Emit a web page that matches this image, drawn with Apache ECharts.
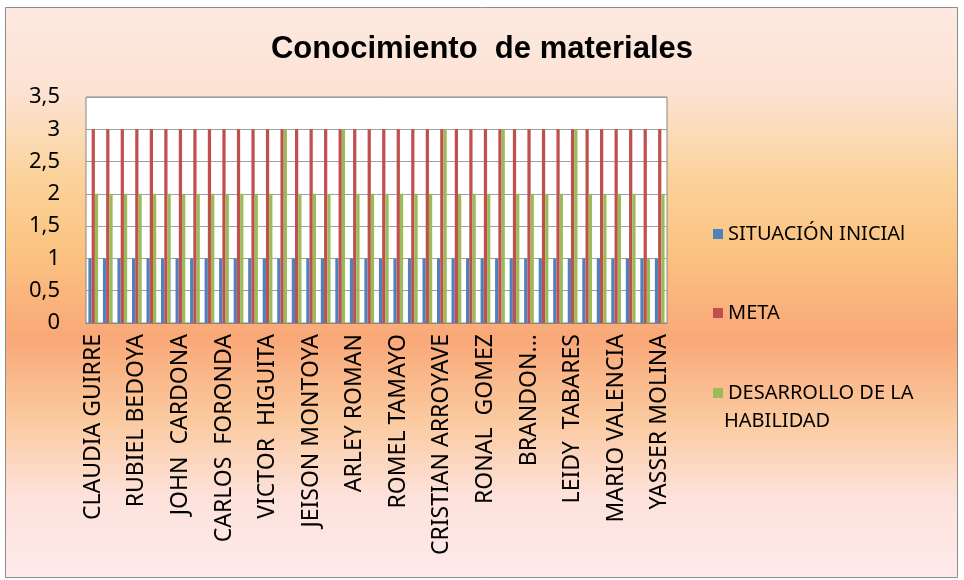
<!DOCTYPE html>
<html>
<head>
<meta charset="utf-8">
<script src="https://cdn.jsdelivr.net/npm/echarts@6/dist/echarts.min.js"></script>
<style>
  html, body { margin: 0; padding: 0; background: #fff; }
  #chart { width: 964px; height: 580px; }
</style>
</head>
<body>
<div id="chart"></div>
<script>
// only every third name is printed on the axis, the others are unknown
const categories = [
  'CLAUDIA GUIRRE', '', '', 'RUBIEL BEDOYA', '', '', 'JOHN  CARDONA', '', '',
  'CARLOS  FORONDA', '', '', 'VICTOR  HIGUITA', '', '', 'JEISON MONTOYA', '', '',
  'ARLEY ROMAN', '', '', 'ROMEL TAMAYO', '', '', 'CRISTIAN ARROYAVE', '', '',
  'RONAL  GOMEZ', '', '', 'BRANDON...', '', '', 'LEIDY  TABARES', '', '',
  'MARIO VALENCIA', '', '', 'YASSER MOLINA'
];

const situacionInicial = [
  1, 1, 1, 1, 1, 1, 1, 1, 1, 1, 1, 1, 1, 1, 1, 1, 1, 1, 1, 1,
  1, 1, 1, 1, 1, 1, 1, 1, 1, 1, 1, 1, 1, 1, 1, 1, 1, 1, 1, 1
];

const meta = [
  3, 3, 3, 3, 3, 3, 3, 3, 3, 3, 3, 3, 3, 3, 3, 3, 3, 3, 3, 3,
  3, 3, 3, 3, 3, 3, 3, 3, 3, 3, 3, 3, 3, 3, 3, 3, 3, 3, 3, 3
];

const desarrollo = [
  2, 2, 2, 2, 2, 2, 2, 2, 2, 2, 2, 2, 2, 3, 2, 2, 2, 3, 2, 2,
  2, 2, 2, 2, 3, 2, 2, 2, 3, 2, 2, 2, 2, 3, 2, 2, 2, 2, 1, 2
];

const seriesNames = ['SITUACIÓN INICIAl', 'META', 'DESARROLLO DE LA HABILIDAD'];
const colors = ['#4f81bd', '#c0504d', '#9bbb59'];

const chart = echarts.init(document.getElementById('chart'));

const legendText = { fontFamily: 'Noto Sans', fontSize: 20, color: '#000' };

const option = {
  color: colors,
  animation: false,
  textStyle: { fontFamily: 'Noto Sans' },
  title: {
    text: 'Conocimiento  de materiales',
    left: 'center',
    top: 29,
    textStyle: {
      fontFamily: 'Liberation Sans',
      fontWeight: 'bold',
      fontSize: 31,
      color: '#000'
    }
  },
  // frame with the warm gradient behind everything
  graphic: [
    {
      type: 'rect',
      z: -10,
      shape: { x: 5.5, y: 7.5, width: 952, height: 570 },
      style: {
        stroke: '#8c8c8c',
        lineWidth: 1,
        fill: new echarts.graphic.LinearGradient(0, 0, 0, 1, [
          { offset: 0, color: '#fde9e2' },
          { offset: 0.15, color: '#fce2d2' },
          { offset: 0.3, color: '#fbd29a' },
          { offset: 0.42, color: '#fbc482' },
          { offset: 0.58, color: '#f9a878' },
          { offset: 0.72, color: '#fbc99e' },
          { offset: 0.86, color: '#fde2dc' },
          { offset: 1, color: '#fdeaea' }
        ])
      }
    },
    {
      type: 'text',
      left: 724,
      top: 411,
      style: { text: 'HABILIDAD', font: '20px "Noto Sans"', fill: '#000' }
    }
  ],
  legend: [
    {
      data: [seriesNames[0]], left: 708, top: 219,
      itemWidth: 10, itemHeight: 10, icon: 'rect', textStyle: legendText
    },
    {
      data: [seriesNames[1]], left: 708, top: 298,
      itemWidth: 10, itemHeight: 10, icon: 'rect', textStyle: legendText
    },
    {
      data: [seriesNames[2]], left: 708, top: 378,
      itemWidth: 10, itemHeight: 10, icon: 'rect', textStyle: legendText,
      formatter: () => 'DESARROLLO DE LA'
    }
  ],
  grid: {
    left: 86,
    right: 297,
    top: 97,
    bottom: 257,
    show: true,
    backgroundColor: '#fff',
    borderColor: '#868686',
    borderWidth: 1
  },
  xAxis: {
    type: 'category',
    data: categories,
    axisTick: { show: false },
    axisLine: { lineStyle: { color: '#868686' } },
    axisLabel: {
      interval: 2,
      rotate: 90,
      margin: 11,
      fontFamily: 'Noto Sans',
      fontSize: 23,
      color: '#000'
    }
  },
  yAxis: {
    type: 'value',
    min: 0,
    max: 3.5,
    interval: 0.5,
    axisLine: { show: false },
    axisTick: { show: false },
    splitLine: { lineStyle: { color: '#a0a0a0', width: 1 } },
    axisLabel: {
      margin: 26,
      fontFamily: 'Noto Sans',
      fontSize: 22,
      color: '#000',
      formatter: (v) => String(v).replace('.', ',')
    }
  },
  series: [
    { name: seriesNames[0], type: 'bar', data: situacionInicial, barGap: '0%', barCategoryGap: '33%' },
    { name: seriesNames[1], type: 'bar', data: meta, barGap: '0%', barCategoryGap: '33%' },
    { name: seriesNames[2], type: 'bar', data: desarrollo, barGap: '0%', barCategoryGap: '33%' }
  ]
};

chart.setOption(option);
</script>
</body>
</html>
